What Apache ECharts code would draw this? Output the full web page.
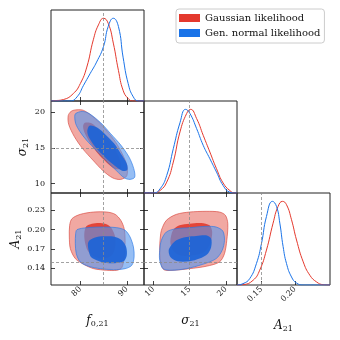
<!DOCTYPE html>
<html>
<head>
<meta charset="UTF-8">
<title>corner plot</title>
<script src="https://cdn.jsdelivr.net/npm/echarts@6/dist/echarts.min.js"></script>
<style>html,body{margin:0;padding:0;background:#fff;}</style>
</head>
<body>
<div id="main" style="width:340px;height:340px;"></div>
<script>
var RED = '#e4392d', BLUE = '#1a73e8';
var FONT = 'DejaVu Serif';
var seriesNames = ['Gaussian likelihood', 'Gen. normal likelihood'];

// axis extents and ticks
var f0Range = [73.7, 93.7];
var sigmaRange = [8.7, 21.55];
var aRangeX = [0.1134, 0.2526];
var aRangeY = [0.114, 0.257];
var pdfRange = [0, 1.1];
var f0Ticks = [80, 90], f0Labels = ['80', '90'];
var sigmaTicks = [10, 15, 20], sigmaLabels = ['10', '15', '20'];
var aTicksY = [0.14, 0.17, 0.20, 0.23], aLabelsY = ['0.14', '0.17', '0.20', '0.23'];
var aTicksX = [0.15, 0.20], aLabelsX = ['0.15', '0.20'];
var truthF0 = 85, truthSigma = 15, truthA = 0.155;

// 1D marginals (normalised to peak)
var f0Red = [[73.7,0],[74.3,0.003],[76.4,0.018],[78.5,0.09],[80.0,0.21],[81.4,0.41],[82.8,0.74],[83.9,0.92],[85.0,1.0],[86.0,0.94],[87.1,0.70],[88.2,0.37],[89.2,0.13],[90.3,0.03],[91.4,0],[93.7,0]];
var f0Blue = [[73.7,0],[77.8,0],[79.3,0.05],[80.7,0.19],[82.1,0.33],[83.5,0.47],[85.0,0.66],[86.0,0.9],[87.1,1.0],[88.2,0.9],[89.2,0.53],[90.3,0.21],[91.4,0.05],[92.5,0],[93.7,0]];
var sigmaRed = [[8.7,0],[10.0,0],[10.92,0.03],[11.84,0.13],[12.75,0.37],[13.67,0.73],[14.59,0.95],[15.14,1.0],[15.97,0.89],[16.88,0.69],[17.8,0.49],[18.72,0.29],[19.63,0.12],[20.55,0.03],[21.24,0],[21.55,0]];
var sigmaBlue = [[8.7,0],[10.0,0],[10.92,0.05],[11.84,0.21],[12.75,0.53],[13.67,0.84],[14.45,1.0],[15.05,0.95],[15.97,0.77],[16.88,0.57],[17.8,0.41],[18.72,0.25],[19.63,0.09],[20.55,0.01],[21.24,0],[21.55,0]];
var aRed = [[0.1134,0],[0.1224,0.004],[0.1374,0.056],[0.1474,0.177],[0.1575,0.418],[0.1674,0.739],[0.1749,0.94],[0.1815,1.0],[0.1875,0.96],[0.195,0.78],[0.2025,0.538],[0.2125,0.277],[0.2225,0.116],[0.2326,0.036],[0.2425,0.004],[0.2526,0]];
var aBlue = [[0.1134,0],[0.1224,0.016],[0.1324,0.076],[0.1425,0.257],[0.15,0.494],[0.1575,0.819],[0.1665,1.0],[0.1725,0.94],[0.1775,0.74],[0.1824,0.46],[0.1875,0.257],[0.195,0.096],[0.2025,0.024],[0.2125,0],[0.2526,0]];

// 2D contours: f0 vs sigma
var fsRedOuter = [[78.0,20.1],[78.9,20.3],[80.4,20.3],[81.6,19.9],[83.7,18.8],[85.8,17.3],[87.6,15.8],[89.0,14.2],[90.0,12.6],[90.0,11.1],[88.7,10.6],[87.0,10.8],[84.9,11.8],[82.7,13.3],[80.5,14.9],[78.7,16.6],[77.5,18.3],[77.4,19.5]];
var fsRedInner = [[81.0,18.5],[82.5,18.4],[84.3,17.3],[86.1,16.1],[87.6,14.7],[88.7,13.0],[88.7,12.1],[87.4,12.1],[85.6,13.0],[83.8,14.2],[82.2,15.6],[81.0,17.0],[80.6,18.0]];
var fsBlueOuter = [[79.0,19.8],[80.4,20.1],[81.9,19.8],[84.4,18.5],[86.5,17.0],[88.7,15.4],[90.5,13.7],[91.5,12.1],[91.7,10.9],[90.7,10.6],[89.5,10.8],[87.8,11.8],[85.6,13.2],[83.5,14.6],[81.3,16.1],[79.9,17.3],[79.0,18.4],[78.8,19.4]];
var fsBlueInner = [[82.0,18.1],[83.7,17.8],[85.5,16.8],[87.3,15.6],[88.7,14.2],[90.0,12.8],[90.1,11.9],[89.0,11.8],[87.4,12.5],[85.3,13.7],[83.5,14.9],[82.0,16.3],[81.5,17.3]];

// 2D contours: f0 vs A
var faRedOuter = [[77.71,0.2067],[78.21,0.2171],[80.0,0.2238],[82.86,0.2274],[85.71,0.2274],[87.5,0.2238],[88.71,0.2145],[89.43,0.2016],[89.64,0.1834],[89.43,0.1576],[88.93,0.141],[87.86,0.1369],[85.71,0.1369],[82.86,0.1394],[80.71,0.1462],[78.93,0.155],[77.86,0.1705],[77.64,0.1886]];
var faRedInner = [[81.29,0.2052],[82.5,0.2093],[84.29,0.2104],[85.86,0.2078],[86.79,0.2016],[87.5,0.1886],[87.5,0.1731],[86.79,0.1601],[85.0,0.155],[83.21,0.1576],[81.79,0.1653],[81.07,0.1783],[80.86,0.1938]];
var faBlueOuter = [[79.0,0.1938],[79.29,0.2],[81.43,0.2031],[84.29,0.2041],[87.86,0.2031],[89.64,0.199],[90.71,0.1886],[91.43,0.1731],[91.57,0.1576],[91.07,0.1446],[89.64,0.1394],[87.14,0.1379],[84.29,0.1394],[81.79,0.1431],[80.0,0.1498],[79.14,0.1627],[78.93,0.1783]];
var faBlueInner = [[81.64,0.1783],[82.0,0.1834],[83.57,0.1886],[85.71,0.1896],[87.5,0.1886],[88.93,0.1834],[89.86,0.1731],[90.0,0.1601],[89.43,0.1513],[87.86,0.1482],[85.71,0.1482],[83.93,0.1513],[82.29,0.1576],[81.79,0.1679]];

// 2D contours: sigma vs A
var saRedOuter = [[10.96,0.1886],[11.1,0.199],[11.79,0.2145],[13.17,0.2238],[15.0,0.2274],[17.29,0.2285],[19.13,0.2274],[19.95,0.2223],[20.28,0.2093],[20.14,0.1834],[19.82,0.1627],[19.13,0.1498],[17.29,0.1431],[15.0,0.1394],[12.71,0.1369],[11.42,0.1379],[10.96,0.1524],[10.87,0.1731]];
var saRedInner = [[12.34,0.1808],[12.71,0.199],[13.62,0.2067],[15.0,0.2093],[16.61,0.2104],[17.75,0.2067],[18.12,0.1964],[17.84,0.1783],[17.06,0.1653],[15.46,0.1601],[13.62,0.1601],[12.71,0.1679]];
var saBlueOuter = [[10.87,0.1679],[11.1,0.1834],[11.79,0.1964],[13.17,0.2016],[15.0,0.2031],[17.29,0.2052],[18.67,0.2041],[19.59,0.1979],[19.82,0.1834],[19.5,0.1679],[18.67,0.155],[16.83,0.1462],[14.54,0.1394],[12.48,0.1369],[11.33,0.1394],[10.87,0.1524]];
var saBlueInner = [[12.11,0.1679],[12.48,0.1757],[13.17,0.1834],[14.54,0.1886],[15.92,0.1902],[17.29,0.1912],[17.98,0.186],[17.98,0.1731],[17.52,0.1627],[16.38,0.155],[15.0,0.1508],[13.39,0.1508],[12.34,0.1576]];

var nameStyle = {
  rich: {
    i: {fontFamily: FONT, fontStyle: 'italic', fontSize: 12, lineHeight: 15, color: '#111'},
    s: {fontFamily: FONT, fontSize: 8, lineHeight: 8, verticalAlign: 'bottom', color: '#111'}
  }
};

var grids = [
  {left: 51, top: 10, width: 93, height: 91},   // f0 pdf
  {left: 51, top: 101, width: 93, height: 92},  // f0 - sigma
  {left: 51, top: 193, width: 93, height: 92},  // f0 - A
  {left: 144, top: 101, width: 93, height: 92}, // sigma pdf
  {left: 144, top: 193, width: 93, height: 92}, // sigma - A
  {left: 237, top: 193, width: 93, height: 92}  // A pdf
].map(function(g) {
  g.show = true; g.borderColor = '#222'; g.borderWidth = 1; g.backgroundColor = 'transparent';
  return g;
});

var xAxes = [], yAxes = [], series = [];

function labelFn(ticks, labels) {
  return function(v) {
    for (var i = 0; i < ticks.length; i++) if (Math.abs(ticks[i] - v) < 1e-9) return labels[i];
    return '';
  };
}

function axis(gi, pos, range, ticks, labels, name, gap) {
  var isX = pos === 'bottom' || pos === 'top';
  var a = {
    type: 'value', gridIndex: gi, position: pos, min: range[0], max: range[1],
    axisLine: {show: false}, splitLine: {show: false},
    axisTick: {show: !!ticks, inside: true, length: 4, lineStyle: {color: '#111', width: 0.8}},
    axisLabel: {show: !!labels, fontFamily: FONT, fontSize: 8, color: '#111', margin: isX ? 3 : 6, rotate: isX ? 45 : 0}
  };
  if (ticks) { a.axisTick.customValues = ticks; a.axisLabel.customValues = ticks; a.axisLabel.formatter = labelFn(ticks, labels || []); }
  if (name) { a.name = name; a.nameLocation = 'middle'; a.nameGap = gap; a.nameTextStyle = nameStyle; }
  var list = isX ? xAxes : yAxes;
  list.push(a);
  return list.length - 1;
}

function curve(xi, yi, data, name, color) {
  series.push({type: 'line', name: name, xAxisIndex: xi, yAxisIndex: yi, data: data, color: color,
    showSymbol: false, symbol: 'none', smooth: 0.5, silent: true,
    lineStyle: {color: color, width: 1}, z: 3});
}

function contour(xi, yi, pts, fill, stroke) {
  series.push({type: 'custom', xAxisIndex: xi, yAxisIndex: yi, data: [pts[0]], silent: true, clip: true, z: 2,
    renderItem: function(params, api) {
      var p = pts.map(function(d) { return api.coord(d); });
      return {type: 'polygon', shape: {points: p, smooth: 0.3},
        style: {fill: fill, stroke: stroke || null, lineWidth: 0.8}};
    }});
}

function truthLines(xi, yi, xv, yv) {
  var d = [];
  if (xv != null) d.push({xAxis: xv});
  if (yv != null) d.push({yAxis: yv});
  series.push({type: 'line', xAxisIndex: xi, yAxisIndex: yi, data: [], z: 5, silent: true,
    markLine: {symbol: 'none', silent: true, animation: false, label: {show: false},
      lineStyle: {type: [3, 2], color: '#8a8a8a', width: 0.8}, data: d}});
}

var RO = 'rgba(232,110,100,0.6)', RI = 'rgba(226,58,44,0.9)';
var BO = 'rgba(85,150,238,0.62)', BI = 'rgba(28,100,215,0.92)';
var RS = 'rgba(215,70,60,0.8)', BS = 'rgba(40,120,230,0.8)';

// panel 0: f0 pdf
var x0 = axis(0, 'bottom', f0Range, f0Ticks, null);
var y0 = axis(0, 'left', pdfRange, null, null);
curve(x0, y0, f0Red, seriesNames[0], RED);
curve(x0, y0, f0Blue, seriesNames[1], BLUE);
truthLines(x0, y0, truthF0, null);

// panel 1: f0 vs sigma
var x1 = axis(1, 'bottom', f0Range, f0Ticks, null);
axis(1, 'top', f0Range, f0Ticks, null);
var y1 = axis(1, 'left', sigmaRange, sigmaTicks, sigmaLabels, '{i|σ}{s|21}', 21);
axis(1, 'right', sigmaRange, sigmaTicks, null);
contour(x1, y1, fsRedOuter, RO, RS);
contour(x1, y1, fsRedInner, RI);
contour(x1, y1, fsBlueOuter, BO, BS);
contour(x1, y1, fsBlueInner, BI);
truthLines(x1, y1, truthF0, truthSigma);

// panel 2: f0 vs A
var x2 = axis(2, 'bottom', f0Range, f0Ticks, f0Labels, '{i|f}{s|0,21}', 28);
axis(2, 'top', f0Range, f0Ticks, null);
var y2 = axis(2, 'left', aRangeY, aTicksY, aLabelsY, '{i|A}{s|21}', 25);
axis(2, 'right', aRangeY, aTicksY, null);
contour(x2, y2, faRedOuter, RO, RS);
contour(x2, y2, faRedInner, RI);
contour(x2, y2, faBlueOuter, BO, BS);
contour(x2, y2, faBlueInner, BI);
truthLines(x2, y2, truthF0, truthA);

// panel 3: sigma pdf
var x3 = axis(3, 'bottom', sigmaRange, sigmaTicks, null);
var y3 = axis(3, 'left', pdfRange, null, null);
curve(x3, y3, sigmaRed, seriesNames[0], RED);
curve(x3, y3, sigmaBlue, seriesNames[1], BLUE);
truthLines(x3, y3, truthSigma, null);

// panel 4: sigma vs A
var x4 = axis(4, 'bottom', sigmaRange, sigmaTicks, sigmaLabels, '{i|σ}{s|21}', 28);
axis(4, 'top', sigmaRange, sigmaTicks, null);
var y4 = axis(4, 'left', aRangeY, aTicksY, null);
axis(4, 'right', aRangeY, aTicksY, null);
contour(x4, y4, saRedOuter, RO, RS);
contour(x4, y4, saRedInner, RI);
contour(x4, y4, saBlueOuter, BO, BS);
contour(x4, y4, saBlueInner, BI);
truthLines(x4, y4, truthSigma, truthA);

// panel 5: A pdf
var x5 = axis(5, 'bottom', aRangeX, aTicksX, aLabelsX, '{i|A}{s|21}', 33);
var y5 = axis(5, 'left', pdfRange, null, null);
curve(x5, y5, aRed, seriesNames[0], RED);
curve(x5, y5, aBlue, seriesNames[1], BLUE);
truthLines(x5, y5, truthA, null);

var chart = echarts.init(document.getElementById('main'), null, {renderer: 'canvas'});
chart.setOption({
  animation: false,
  backgroundColor: '#fff',
  grid: grids,
  xAxis: xAxes,
  yAxis: yAxes,
  legend: {
    orient: 'vertical', left: 176, top: 9, padding: [4, 4, 5, 3],
    itemWidth: 21, itemHeight: 8, itemGap: 5,
    borderColor: '#cccccc', borderWidth: 1, borderRadius: 3, backgroundColor: '#fff',
    selectedMode: false,
    textStyle: {fontFamily: FONT, fontSize: 10, color: '#111'},
    data: [
      {name: seriesNames[0], icon: 'rect', itemStyle: {color: RED, borderWidth: 0}},
      {name: seriesNames[1], icon: 'rect', itemStyle: {color: BLUE, borderWidth: 0}}
    ]
  },
  series: series
});
</script>
</body>
</html>
